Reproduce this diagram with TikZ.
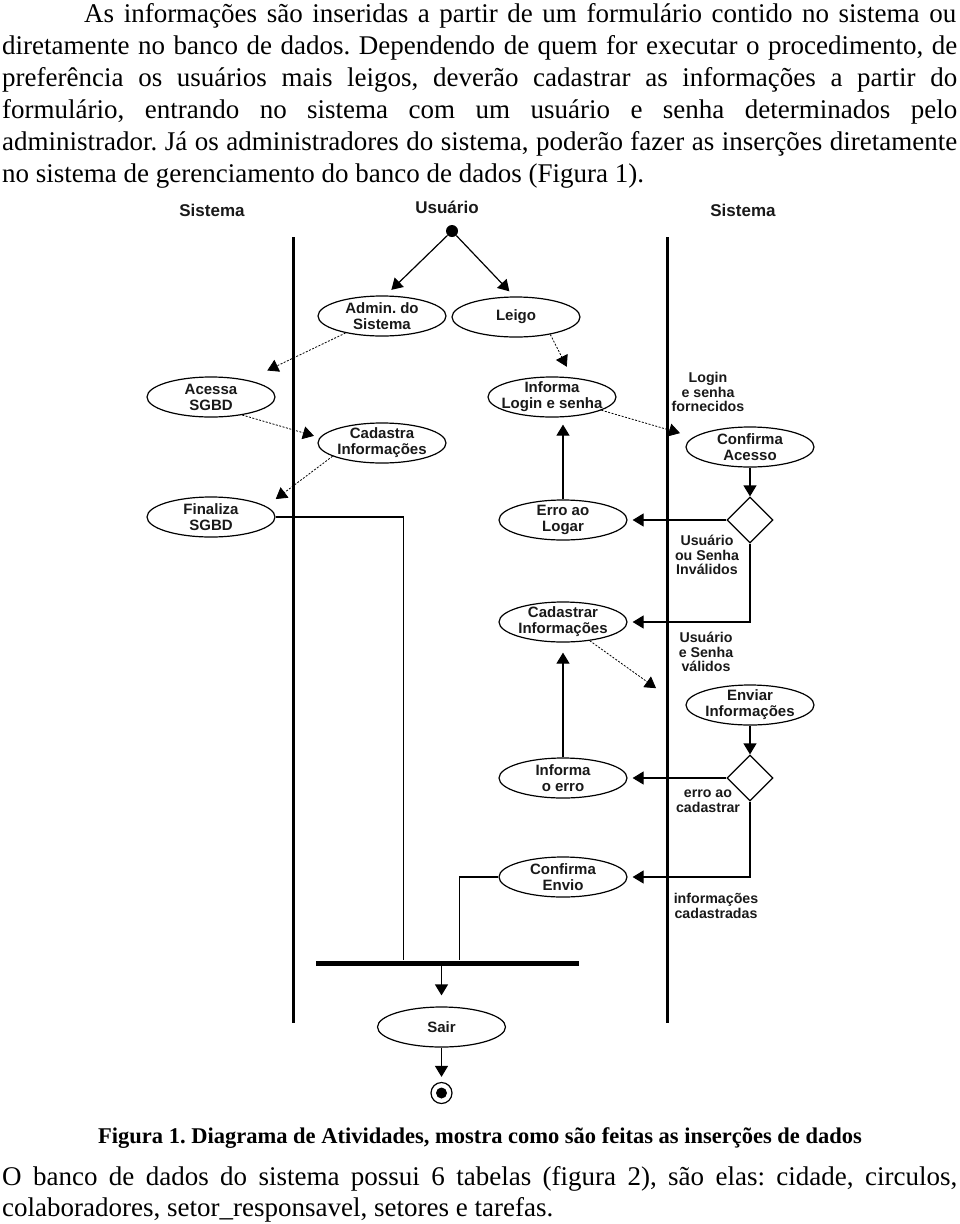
\documentclass[tikz,border=0pt]{standalone}
\usepackage{fontspec}
\setmainfont{Liberation Serif}
\newfontfamily\diagfont{Liberation Sans}
\usetikzlibrary{arrows.meta}
\usetikzlibrary{shapes.geometric}
\frenchspacing

\begin{document}
\begin{tikzpicture}[x=1pt, y=-1pt,
   body/.style={anchor=base west, inner sep=0pt,
      font=\fontsize{27}{32}\selectfont},
   hdr/.style={font=\diagfont\bfseries\fontsize{17}{18}\selectfont,
      text=black!90},
   act/.style={ellipse, draw, line width=1.2pt, minimum width=128pt,
      minimum height=40pt, inner xsep=-12pt, inner ysep=-4pt,
      align=center, text=black!90,
      font=\diagfont\bfseries\fontsize{15}{16}\selectfont},
   dec/.style={diamond, draw, line width=1.2pt, minimum width=46pt,
      minimum height=46pt, inner sep=0pt},
   lbl/.style={align=center, inner sep=0pt, text=black!90,
      font=\diagfont\bfseries\fontsize{14.2}{14.6}\selectfont},
   flow/.style={-{Triangle[length=11pt, width=13pt]}, line width=1.2pt},
   dflow/.style={flow, line width=0.8pt, dash pattern=on 2pt off 1.5pt}]
      \useasboundingbox (0,0) rectangle (960,1224);

      \node (t1) at (84,22) [body] {\makebox[872pt][s]{As informações são inseridas a partir de um formulário contido no sistema ou}};
      \node (t2) at (2,54) [body] {\makebox[955pt][s]{diretamente no banco de dados. Dependendo de quem for executar o procedimento, de}};
      \node (t3) at (2,86) [body] {\makebox[955pt][s]{preferência os usuários mais leigos, deverão cadastrar as informações a partir do}};
      \node (t4) at (2,118) [body] {\makebox[955pt][s]{formulário, entrando no sistema com um usuário e senha determinados pelo}};
      \node (t5) at (2,150) [body] {\makebox[955pt][s]{administrador. Já os administradores do sistema, poderão fazer as inserções diretamente}};
      \node (t6) at (2,182) [body] {no sistema de gerenciamento do banco de dados (Figura 1).};

      \node (sis1) at (212,210) [hdr] {Sistema};
      \node (usu) at (447,207) [hdr] {Usuário};
      \node (sis2) at (743,210) [hdr] {Sistema};
      \draw [line width=3pt] (293,237) -- (293,1023);
      \draw [line width=3pt] (667,237) -- (667,1023);

      \node (ini) at (452,231) [circle, fill, minimum size=12pt, inner sep=0pt] {};
      \node (admin) at (382,316) [act] {Admin. do\\Sistema};
      \node (leigo) at (516,317) [act] {Leigo};
      \node (acessa) at (211,397) [act] {Acessa\\SGBD};
      \node (login) at (552,397) [act] {Informa\\Login e senha};
      \node (cadastra) at (382,443) [act] {Cadastra\\Informações};
      \node (conf) at (750,447) [act] {Confirma\\Acesso};
      \node (finaliza) at (211,517) [act] {Finaliza\\SGBD};
      \node (erro) at (563,520) [act] {Erro ao\\Logar};
      \node (d1) at (750,520) [dec] {};
      \node (cadastrar) at (563,622) [act] {Cadastrar\\Informações};
      \node (enviar) at (750,705) [act] {Enviar\\Informações};
      \node (informa) at (563,778) [act] {Informa\\o erro};
      \node (d2) at (750,778) [dec] {};
      \node (envio) at (563,877) [act] {Confirma\\Envio};
      \node (bar) at (447.5,963) [fill, minimum width=263pt, minimum height=5pt, inner sep=0pt] {};
      \node (sair) at (441.5,1027) [act] {Sair};
      \node (fim) at (441.5,1093) [circle, draw, line width=1.2pt, minimum size=21pt] {};
      \fill (fim) circle (5.5pt);

      \node (l1) at (708,392) [lbl] {Login\\e senha\\fornecidos};
      \node (l2) at (707,555) [lbl] {Usuário\\ou Senha\\Inválidos};
      \node (l3) at (706,652) [lbl] {Usuário\\e Senha\\válidos};
      \node (l4) at (708,801) [lbl] {erro ao\\cadastrar};
      \node (l5) at (716,906) [lbl] {informações\\cadastradas};

      \draw [flow, shorten >=8pt] (ini) -- (admin.80);
      \draw [flow, shorten >=7pt] (ini) -- (leigo.95);
      \draw [dflow, shorten >=22pt] (admin.205) -- (acessa.25);
      \draw [dflow, shorten >=6pt] (acessa.-30) -- (cadastra.175);
      \draw [dflow, shorten >=12pt] (cadastra.195) -- (finaliza.11);
      \draw [dflow, shorten >=12pt] (leigo.-27) -- (login.44);
      \draw [dflow, shorten >=14pt] (login.-15) -- (conf.170);
      \draw [dflow, shorten >=46pt] (cadastrar.-35) -- (enviar.190);
      \draw [flow] (conf.south) -- (d1.north);
      \draw [flow, shorten >=5pt] (d1.west) -- (erro.east);
      \draw [flow, shorten >=7pt] (erro.north) -- (erro.north |- login.south);
      \draw [flow, shorten >=5pt] (d1.south) |- (cadastrar.east);
      \draw [flow] (enviar.south) -- (d2.north);
      \draw [flow, shorten >=5pt] (d2.west) -- (informa.east);
      \draw [flow, shorten >=10pt] (informa.north) -- (cadastrar.south);
      \draw [flow, shorten >=5pt] (d2.south) |- (envio.east);
      \draw [line width=1.2pt] (finaliza.east) -| ([xshift=88pt]bar.north west);
      \draw [line width=1.2pt] (envio.west) -| ([xshift=144pt]bar.north west);
      \draw [flow, shorten >=11pt] (bar.south -| sair.north) -- (sair.north);
      \draw [flow, shorten >=5pt] (sair.south) -- (fim.north);

      \node (cap) at (480,1143) [anchor=base, inner sep=0pt, font=\bfseries\fontsize{22.5}{26}\selectfont] {Figura 1. Diagrama de Atividades, mostra como são feitas as inserções de dados};
      \node (b1) at (2,1185) [body] {\makebox[955pt][s]{O banco de dados do sistema possui 6 tabelas (figura 2), são elas: cidade, circulos,}};
      \node (b2) at (2,1216) [body] {colaboradores, setor\_responsavel, setores e tarefas.};
   \end{tikzpicture}
\end{document}
